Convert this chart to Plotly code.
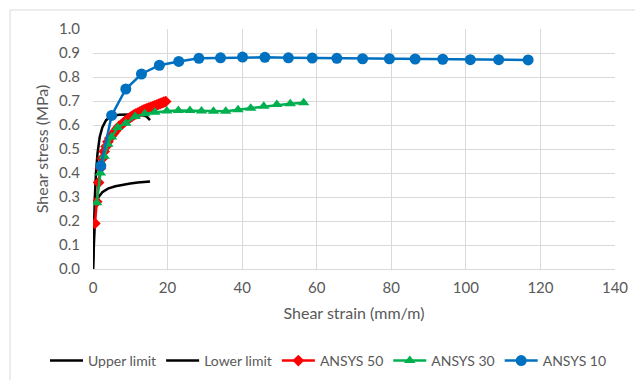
import plotly.graph_objects as go

# Experimental envelope (upper and lower limits)
upper_x = [0, 0.2, 0.5, 0.8, 1.2, 1.8, 2.5, 3.5, 5.0, 7.0, 10.0, 12.6, 14.4, 15.3]
upper_y = [0, 0.15, 0.30, 0.40, 0.48, 0.55, 0.59, 0.62, 0.637, 0.643, 0.645, 0.645, 0.635, 0.62]

lower_x = [0, 0.3, 0.6, 1.0, 1.5, 2.5, 4.0, 6.0, 8.0, 10.0, 12.0, 15.3]
lower_y = [0, 0.15, 0.25, 0.28, 0.30, 0.32, 0.335, 0.345, 0.352, 0.356, 0.36, 0.365]

# ANSYS results for three mesh/model settings
ansys50_x = [0.5, 1.0, 1.5, 2.0, 2.5, 3.0, 3.5, 4.0, 4.5, 5.0, 5.5, 6.0, 6.5, 7.0,
             7.5, 8.0, 8.5, 9.0, 9.5, 10.0, 10.5, 11.0, 11.5, 12.0, 12.5, 13.0,
             13.5, 14.0, 14.5, 15.0, 15.5, 16.0, 16.5, 17.0, 17.5, 18.0, 18.5,
             19.0, 19.5]
ansys50_y = [0.19, 0.28, 0.36, 0.42, 0.46, 0.49, 0.51, 0.53, 0.545, 0.555, 0.565,
             0.575, 0.585, 0.595, 0.60, 0.607, 0.614, 0.62, 0.626, 0.632, 0.637,
             0.642, 0.646, 0.65, 0.654, 0.658, 0.662, 0.665, 0.668, 0.671, 0.674,
             0.677, 0.68, 0.683, 0.686, 0.689, 0.692, 0.695, 0.698]

ansys30_x = [1.0, 2.0, 3.0, 4.0, 5.0, 6.6, 8.8, 11.3, 13.9, 16.6, 19.8, 22.9, 26.0,
             29.1, 32.3, 35.6, 38.9, 42.3, 45.8, 49.3, 52.9, 56.5]
ansys30_y = [0.276, 0.40, 0.47, 0.52, 0.55, 0.59, 0.607, 0.635, 0.647, 0.653, 0.658,
             0.66, 0.66, 0.658, 0.657, 0.657, 0.664, 0.67, 0.678, 0.685, 0.689, 0.693]

ansys10_x = [2.1, 5.0, 8.8, 13.0, 17.8, 23.0, 28.4, 34.2, 40.1, 46.1, 52.4, 58.8,
             65.4, 72.3, 79.5, 86.4, 93.8, 101.2, 108.8, 116.7]
ansys10_y = [0.43, 0.64, 0.75, 0.8125, 0.849, 0.865, 0.878, 0.880, 0.883, 0.882,
             0.880, 0.879, 0.878, 0.876, 0.876, 0.875, 0.874, 0.872, 0.872, 0.871]

x_ticks = [0, 20, 40, 60, 80, 100, 120, 140]
y_ticks = [0.0, 0.1, 0.2, 0.3, 0.4, 0.5, 0.6, 0.7, 0.8, 0.9, 1.0]

TEXT = "#595959"
GRID = "#d9d9d9"
FONT = "Lato, 'Open Sans', sans-serif"

fig = go.Figure()
fig.add_trace(go.Scatter(x=upper_x, y=upper_y, mode="lines", name="Upper limit",
                         line=dict(color="black", width=2.5)))
fig.add_trace(go.Scatter(x=lower_x, y=lower_y, mode="lines", name="Lower limit",
                         line=dict(color="black", width=2.5)))
fig.add_trace(go.Scatter(x=ansys50_x, y=ansys50_y, mode="lines+markers", name="ANSYS 50",
                         line=dict(color="#FF0000", width=2.5),
                         marker=dict(symbol="diamond", size=9, color="#FF0000")))
fig.add_trace(go.Scatter(x=ansys30_x, y=ansys30_y, mode="lines+markers", name="ANSYS 30",
                         line=dict(color="#00B050", width=2.5),
                         marker=dict(symbol="triangle-up", size=10, color="#00B050")))
fig.add_trace(go.Scatter(x=ansys10_x, y=ansys10_y, mode="lines+markers", name="ANSYS 10",
                         line=dict(color="#0070C0", width=2.5),
                         marker=dict(symbol="circle", size=11, color="#0070C0")))

# plot area in pixels: left 93, right 615, top 29, bottom 269
W, H = 635, 380
L, R, T, B = 93, 615, 29, 269

def px_x(p):
    return (p - L) / (R - L)

def px_y(p):
    return (B - p) / (B - T)

fig.add_shape(type="rect", xref="paper", yref="paper",
              x0=px_x(10), x1=px_x(660), y0=px_y(400), y1=px_y(10),
              line=dict(color=GRID, width=1), fillcolor="rgba(0,0,0,0)", layer="below")

fig.update_layout(
    width=W, height=H,
    margin=dict(l=L, r=W - R, t=T, b=H - B, autoexpand=False),
    paper_bgcolor="white", plot_bgcolor="white",
    font=dict(family=FONT, color=TEXT, size=14),
    showlegend=True,
    legend=dict(orientation="h", x=px_x(45), xanchor="left", y=px_y(361),
                yanchor="middle", font=dict(size=14, color=TEXT), itemwidth=33,
                tracegroupgap=0, bgcolor="rgba(0,0,0,0)"),
    xaxis=dict(range=[0, 140], tickvals=x_ticks, showgrid=True, gridcolor=GRID,
               gridwidth=1, zeroline=False, showline=True, linecolor=GRID,
               ticks="outside", ticklen=5, tickcolor="rgba(0,0,0,0)",
               tickfont=dict(size=15, color=TEXT),
               title=dict(text="Shear strain (mm/m)", font=dict(size=16, color=TEXT),
                          standoff=12)),
    yaxis=dict(range=[0, 1.0], tickvals=y_ticks, tickformat=".1f", showgrid=True,
               gridcolor=GRID, gridwidth=1, zeroline=False, showline=False,
               ticks="outside", ticklen=9, tickcolor="rgba(0,0,0,0)",
               tickfont=dict(size=15, color=TEXT),
               title=dict(text="Shear stress (MPa)", font=dict(size=16, color=TEXT),
                          standoff=6)),
)

fig.write_html("out.html")
